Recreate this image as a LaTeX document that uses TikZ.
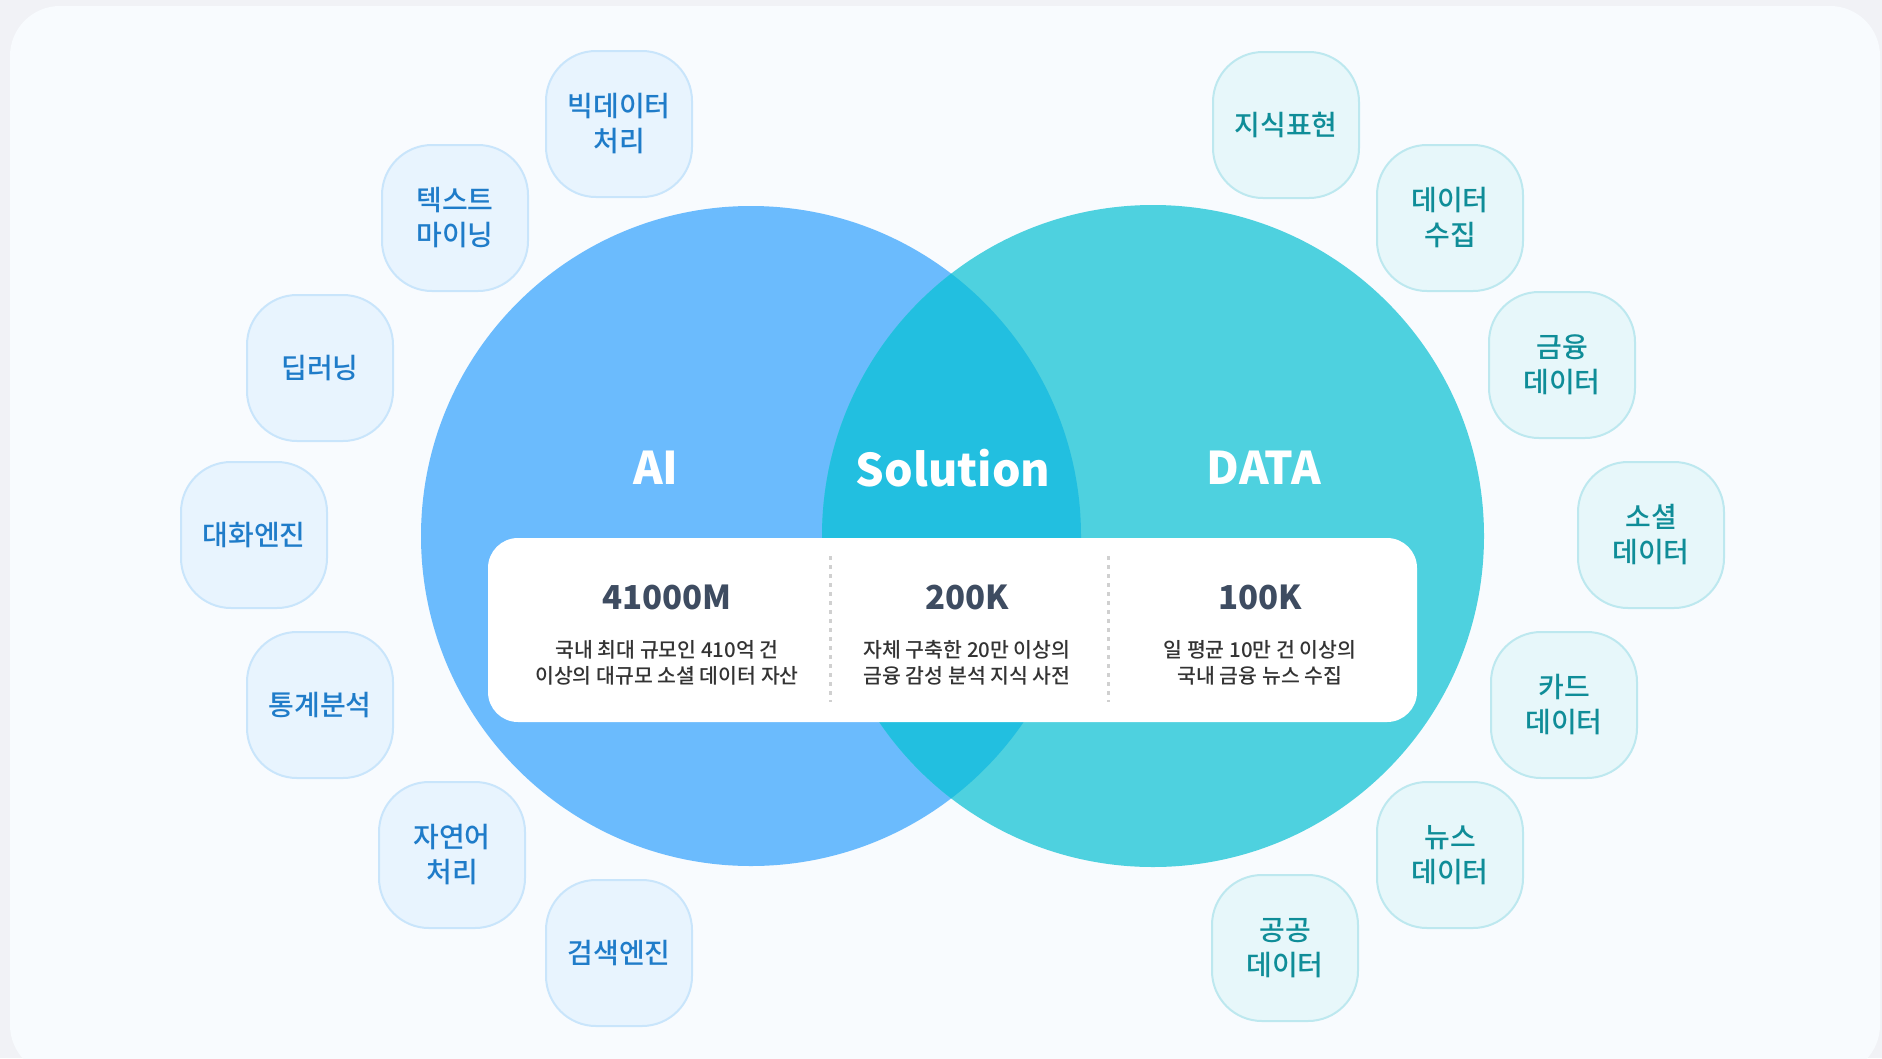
\documentclass[tikz,border=0pt]{standalone}
\usepackage{fontspec}
\setmainfont{Noto Sans CJK KR}
\newfontfamily\medfont{Noto Sans CJK KR Medium}
\definecolor{outerbg}{HTML}{F1F2F6}
\definecolor{cardbg}{HTML}{F8FBFE}
\definecolor{aiblue}{HTML}{6BBBFD}
\definecolor{datateal}{HTML}{4ED1DF}
\definecolor{solcol}{HTML}{22BFE0}
\definecolor{pillLf}{HTML}{E8F4FE}
\definecolor{pillLb}{HTML}{C9E5FB}
\definecolor{pillLt}{HTML}{1F7CC9}
\definecolor{pillRf}{HTML}{E7F7FA}
\definecolor{pillRb}{HTML}{BDE8EF}
\definecolor{pillRt}{HTML}{0F8D98}
\definecolor{numcol}{HTML}{3E4C61}
\definecolor{desccol}{HTML}{333333}
\definecolor{sepcol}{HTML}{D0D0D0}
\tikzset{
  pillbase/.style={rectangle, rounded corners=50pt, line width=2pt, minimum width=146pt, minimum height=146pt, align=center, inner sep=0pt, font=\medfont\fontsize{28}{35}\selectfont},
  pillL/.style={pillbase, draw=pillLb, fill=pillLf, text=pillLt},
  pillR/.style={pillbase, draw=pillRb, fill=pillRf, text=pillRt},
  biglabel/.style={text=white, font=\fontsize{45}{50}\selectfont\bfseries, inner sep=0pt},
  numlabel/.style={text=numcol, font=\fontsize{33}{38}\selectfont\bfseries, inner sep=0pt},
  desclabel/.style={text=desccol, font=\medfont\fontsize{20.5}{26.5}\selectfont, align=center, inner sep=0pt},
  sepline/.style={draw=sepcol, line width=3pt, dash pattern=on 4pt off 5pt}
}
\begin{document}
\begin{tikzpicture}[x=1pt,y=-1pt]
\useasboundingbox (0,0) rectangle (1882,1058);
\fill[outerbg] (0,0) rectangle (1882,1058);
\fill[cardbg, rounded corners=50pt] (10,6) rectangle (1880,1075);
% circles
\fill[aiblue] (751,536) circle (330);
\fill[datateal] (1153,536) circle (331);
\begin{scope}
  \clip (751,536) circle (330);
  \fill[solcol] (1153,536) circle (331);
\end{scope}
% titles
\node[biglabel] (ai) at (656,468) {AI};
\node[biglabel] (sol) at (953,468) {Solution};
\node[biglabel] (data) at (1264,468) {DATA};
% white info box
\node[rectangle, fill=white, rounded corners=30pt, minimum width=929pt, minimum height=184pt, inner sep=0pt] (box) at (952.5,630) {};
\coordinate (s1a) at (830,556);
\coordinate (s1b) at (830,702);
\coordinate (s2a) at (1108,556);
\coordinate (s2b) at (1108,702);
\draw[sepline] (s1a) -- (s1b);
\draw[sepline] (s2a) -- (s2b);
\node[numlabel] (n1) at (667,597) {41000M};
\node[numlabel] (n2) at (967,597) {200K};
\node[numlabel] (n3) at (1260,597) {100K};
\node[desclabel] (d1) at (667,663) {국내 최대 규모인 410억 건\\이상의 대규모 소셜 데이터 자산};
\node[desclabel] (d2) at (967,663) {자체 구축한 20만 이상의\\금융 감성 분석 지식 사전};
\node[desclabel] (d3) at (1260,663) {일 평균 10만 건 이상의\\국내 금융 뉴스 수집};
% left pills
\node[pillL] (l1) at (619,124) {빅데이터\\처리};
\node[pillL] (l2) at (455,218) {텍스트\\마이닝};
\node[pillL] (l3) at (320,368) {딥러닝};
\node[pillL] (l4) at (254,535) {대화엔진};
\node[pillL] (l5) at (320,705) {통계분석};
\node[pillL] (l6) at (452,855) {자연어\\처리};
\node[pillL] (l7) at (619,953) {검색엔진};
% right pills
\node[pillR] (r1) at (1286,125) {지식표현};
\node[pillR] (r2) at (1450,218) {데이터\\수집};
\node[pillR] (r3) at (1562,365) {금융\\데이터};
\node[pillR] (r4) at (1651,535) {소셜\\데이터};
\node[pillR] (r5) at (1564,705) {카드\\데이터};
\node[pillR] (r6) at (1450,855) {뉴스\\데이터};
\node[pillR] (r7) at (1285,948) {공공\\데이터};
\end{tikzpicture}
\end{document}
